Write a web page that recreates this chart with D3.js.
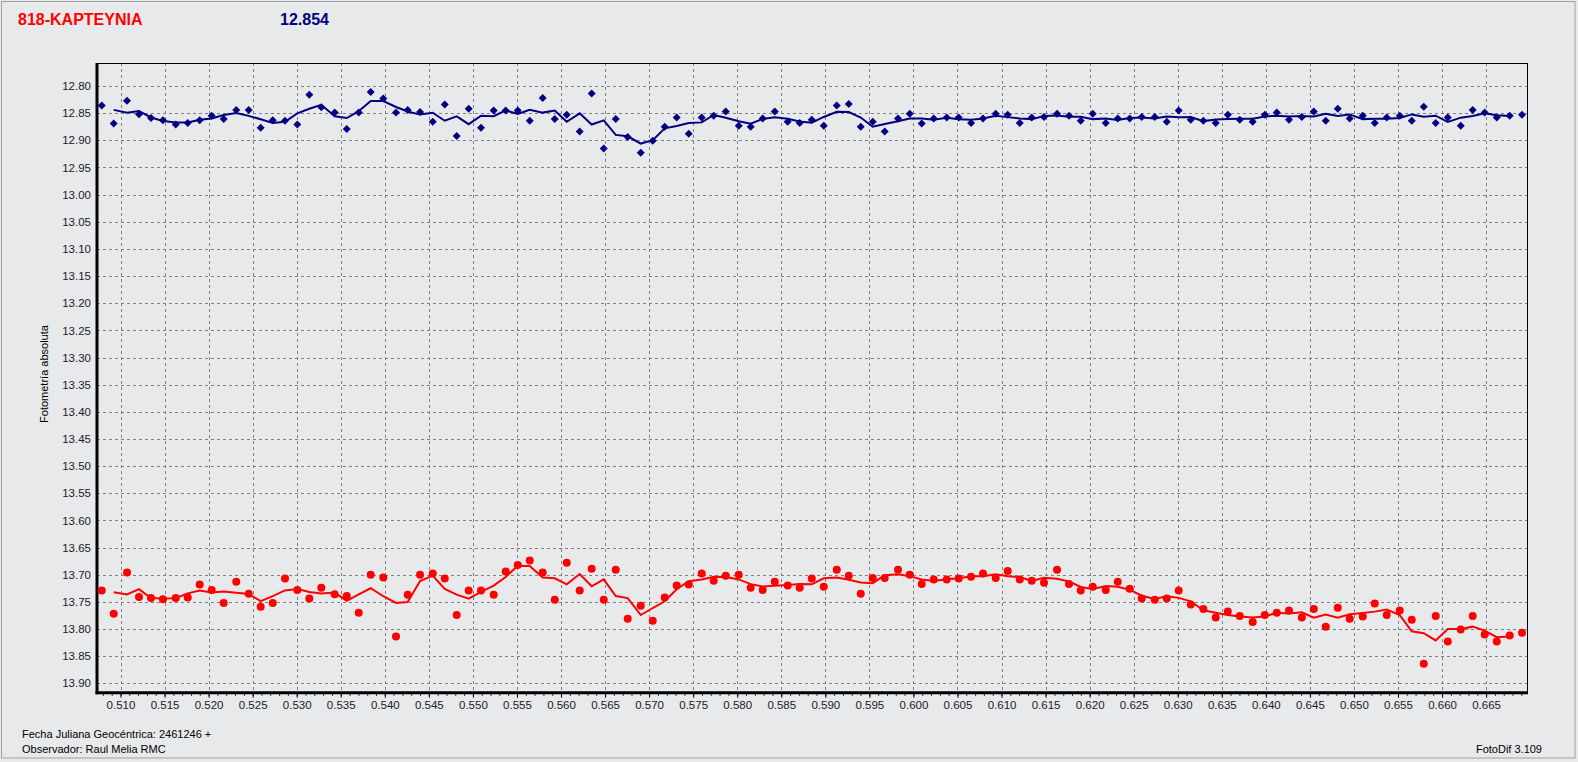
<!DOCTYPE html>
<html>
<head>
<meta charset="utf-8">
<script src="https://cdn.jsdelivr.net/npm/d3@7"></script>
<style>
  body { margin: 0; background: #e8e9eb; }
  svg text { font-family: "Liberation Sans", Arial, sans-serif; }
</style>
</head>
<body>
<svg id="chart" width="1578" height="762"></svg>
<script>
// Fecha juliana (fraccion de dia, + 2461246)
var jd = [
  0.50787,0.50923,0.51074,0.51210,0.51346,0.51482,0.51627,0.51763,0.51899,0.52035,
  0.52171,0.52314,0.52455,0.52591,0.52728,0.52867,0.53007,0.53143,0.53279,0.53431,
  0.53568,0.53704,0.53840,0.53983,0.54127,0.54260,0.54400,0.54544,0.54680,0.54816,
  0.54952,0.55092,0.55236,0.55372,0.55509,0.55645,0.55792,0.55929,0.56065,0.56212,
  0.56348,0.56485,0.56621,0.56757,0.56905,0.57041,0.57177,0.57313,0.57450,0.57597,
  0.57733,0.57870,0.58017,0.58153,0.58289,0.58426,0.58573,0.58709,0.58846,0.58982,
  0.59130,0.59266,0.59402,0.59538,0.59674,0.59825,0.59958,0.60094,0.60231,0.60378,
  0.60514,0.60654,0.60790,0.60934,0.61070,0.61207,0.61343,0.61482,0.61630,0.61766,
  0.61899,0.62035,0.62183,0.62319,0.62455,0.62591,0.62739,0.62875,0.63011,0.63148,
  0.63291,0.63431,0.63568,0.63704,0.63851,0.63988,0.64124,0.64263,0.64408,0.64544,
  0.64680,0.64816,0.64952,0.65100,0.65236,0.65372,0.65520,0.65656,0.65792,0.65928,
  0.66065,0.66212,0.66348,0.66484,0.66621,0.66768,0.66908
];

// estrella de comparacion (azul)
var magComp = [
  12.836,12.869,12.827,12.852,12.859,12.863,12.871,12.868,12.863,12.855,
  12.861,12.844,12.844,12.877,12.863,12.864,12.871,12.816,12.839,12.849,
  12.879,12.849,12.811,12.823,12.849,12.844,12.848,12.866,12.834,12.892,
  12.842,12.877,12.845,12.845,12.845,12.864,12.822,12.861,12.853,12.884,
  12.814,12.915,12.861,12.894,12.923,12.901,12.875,12.858,12.888,12.858,
  12.855,12.847,12.873,12.875,12.860,12.847,12.866,12.868,12.862,12.873,
  12.836,12.833,12.875,12.866,12.884,12.860,12.851,12.869,12.860,12.858,
  12.858,12.868,12.860,12.851,12.853,12.868,12.858,12.857,12.851,12.855,
  12.864,12.851,12.868,12.860,12.860,12.857,12.857,12.866,12.845,12.862,
  12.864,12.868,12.853,12.862,12.866,12.853,12.849,12.862,12.857,12.847,
  12.864,12.842,12.860,12.855,12.868,12.858,12.855,12.864,12.838,12.868,
  12.858,12.873,12.844,12.849,12.858,12.855,12.853
];

// asteroide (rojo)
var magVar = [
  13.729,13.772,13.696,13.741,13.743,13.745,13.743,13.742,13.718,13.728,
  13.752,13.713,13.735,13.759,13.752,13.707,13.728,13.744,13.724,13.736,
  13.739,13.770,13.700,13.705,13.814,13.737,13.700,13.698,13.707,13.774,
  13.729,13.729,13.737,13.694,13.682,13.674,13.696,13.746,13.678,13.729,
  13.689,13.746,13.691,13.781,13.757,13.785,13.742,13.720,13.718,13.698,
  13.711,13.702,13.700,13.724,13.728,13.713,13.720,13.724,13.707,13.722,
  13.691,13.702,13.735,13.706,13.706,13.691,13.700,13.717,13.709,13.709,
  13.707,13.704,13.698,13.706,13.693,13.709,13.711,13.715,13.691,13.717,
  13.729,13.722,13.728,13.713,13.726,13.744,13.746,13.744,13.729,13.755,
  13.763,13.779,13.768,13.776,13.787,13.774,13.770,13.766,13.779,13.763,
  13.796,13.761,13.781,13.777,13.753,13.774,13.766,13.783,13.864,13.776,
  13.823,13.801,13.776,13.810,13.823,13.812,13.807
];

var xTickLabels = ["0.510","0.515","0.520","0.525","0.530","0.535","0.540","0.545",
  "0.550","0.555","0.560","0.565","0.570","0.575","0.580","0.585","0.590","0.595",
  "0.600","0.605","0.610","0.615","0.620","0.625","0.630","0.635","0.640","0.645",
  "0.650","0.655","0.660","0.665"];
var yTickLabels = ["12.80","12.85","12.90","12.95","13.00","13.05","13.10","13.15",
  "13.20","13.25","13.30","13.35","13.40","13.45","13.50","13.55","13.60","13.65",
  "13.70","13.75","13.80","13.85","13.90"];

var titleName = "818-KAPTEYNIA";
var titleMag = "12.854";

var svg = d3.select("#chart");
var box = {left: 97, right: 1527, top: 63, bottom: 692.7};

var x = d3.scaleLinear().domain([0.510, 0.665]).range([120.5, 1486.1]);
var y = d3.scaleLinear().domain([12.80, 13.90]).range([86, 683.3]);

var xTicks = xTickLabels.map(Number);
var yTicks = yTickLabels.map(Number);

// marco exterior
svg.append("rect")
  .attr("x", 1.5).attr("y", 1.5)
  .attr("width", 1573.5).attr("height", 756.5)
  .attr("fill", "#e8e9eb")
  .attr("stroke", "#a0a0a0");

// rejilla
var grid = svg.append("g").attr("stroke", "#808080").attr("stroke-dasharray", "3,3").attr("stroke-width", 1);
grid.selectAll(".gx").data(xTicks).enter().append("line")
  .attr("x1", function(d) { return Math.round(x(d)) + 0.5; })
  .attr("x2", function(d) { return Math.round(x(d)) + 0.5; })
  .attr("y1", box.top).attr("y2", box.bottom);
grid.selectAll(".gy").data(yTicks).enter().append("line")
  .attr("y1", function(d) { return Math.round(y(d)) + 0.5; })
  .attr("y2", function(d) { return Math.round(y(d)) + 0.5; })
  .attr("x1", box.left).attr("x2", box.right);

// ejes
var xMinor = d3.range(508, 670).map(function(d) { return d / 1000; });
var gxMinor = svg.append("g")
  .attr("transform", "translate(0," + box.bottom + ")")
  .call(d3.axisBottom(x).tickValues(xMinor).tickFormat("").tickSize(3));
gxMinor.select(".domain").remove();

var gx = svg.append("g")
  .attr("transform", "translate(0," + box.bottom + ")")
  .call(d3.axisBottom(x).tickValues(xTicks)
    .tickFormat(function(d, i) { return xTickLabels[i]; })
    .tickSize(5).tickPadding(3));
gx.select(".domain").remove();
gx.selectAll("text").attr("font-size", 11.5).attr("fill", "#1a1a2a")
  .attr("font-family", "Liberation Sans, Arial, sans-serif");

var gy = svg.append("g")
  .attr("transform", "translate(" + box.left + ",0)")
  .call(d3.axisLeft(y).tickValues(yTicks)
    .tickFormat(function(d, i) { return yTickLabels[i]; })
    .tickSize(0).tickPadding(6));
gy.select(".domain").remove();
gy.selectAll("text").attr("font-size", 11.5).attr("fill", "#1a1a2a")
  .attr("font-family", "Liberation Sans, Arial, sans-serif");

// marco del grafico
svg.append("line").attr("x1", box.left).attr("x2", box.right)
  .attr("y1", box.top + 0.5).attr("y2", box.top + 0.5).attr("stroke", "#000");
svg.append("line").attr("x1", box.right + 0.5).attr("x2", box.right + 0.5)
  .attr("y1", box.top).attr("y2", box.bottom).attr("stroke", "#000");
svg.append("line").attr("x1", box.left).attr("x2", box.left)
  .attr("y1", box.top).attr("y2", box.bottom + 1.5).attr("stroke", "#000").attr("stroke-width", 3);
svg.append("line").attr("x1", box.left - 1.5).attr("x2", box.right + 1)
  .attr("y1", box.bottom).attr("y2", box.bottom).attr("stroke", "#000").attr("stroke-width", 3);

// media movil de 3 puntos
function movAvg(vals) {
  var out = [];
  for (var i = 1; i < vals.length - 1; i++) {
    out.push([jd[i], d3.mean([vals[i - 1], vals[i], vals[i + 1]])]);
  }
  return out;
}

var line = d3.line()
  .x(function(d) { return x(d[0]); })
  .y(function(d) { return y(d[1]); });

svg.append("path").datum(movAvg(magComp))
  .attr("d", line).attr("fill", "none").attr("stroke", "#000080").attr("stroke-width", 2);
svg.append("path").datum(movAvg(magVar))
  .attr("d", line).attr("fill", "none").attr("stroke", "#ff0000").attr("stroke-width", 2);

// puntos
svg.append("g").selectAll("path").data(magComp).enter().append("path")
  .attr("d", "M0,-4L4,0L0,4L-4,0Z")
  .attr("transform", function(d, i) { return "translate(" + x(jd[i]) + "," + y(d) + ")"; })
  .attr("fill", "#000080");

svg.append("g").selectAll("circle").data(magVar).enter().append("circle")
  .attr("cx", function(d, i) { return x(jd[i]); })
  .attr("cy", function(d) { return y(d); })
  .attr("r", 4)
  .attr("fill", "#ff0000");

// textos
svg.append("text").attr("x", 18).attr("y", 25)
  .attr("font-size", 16).attr("font-weight", "bold").attr("fill", "#ff0000")
  .text(titleName);
svg.append("text").attr("x", 280).attr("y", 25)
  .attr("font-size", 16).attr("font-weight", "bold").attr("fill", "#000080")
  .text(titleMag);

svg.append("text")
  .attr("transform", "translate(48,374) rotate(-90)")
  .attr("text-anchor", "middle")
  .attr("font-size", 11).attr("fill", "#000")
  .text("Fotometría absoluta");

svg.append("text").attr("x", 22).attr("y", 738)
  .attr("font-size", 11).attr("fill", "#000")
  .text("Fecha Juliana Geocéntrica: 2461246 +");
svg.append("text").attr("x", 22).attr("y", 753)
  .attr("font-size", 11).attr("fill", "#000")
  .text("Observador: Raul Melia RMC");
svg.append("text").attr("x", 1542).attr("y", 753)
  .attr("text-anchor", "end")
  .attr("font-size", 11).attr("fill", "#000")
  .text("FotoDif 3.109");
</script>
</body>
</html>
